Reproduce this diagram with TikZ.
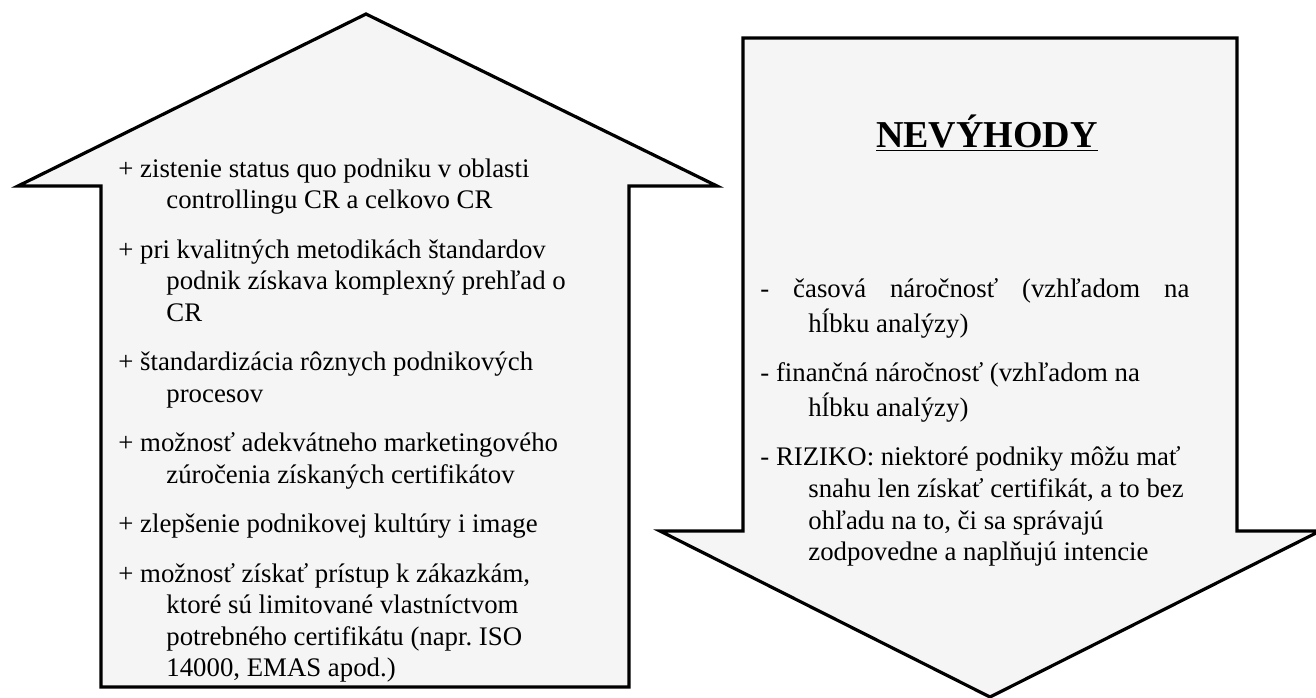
\documentclass[tikz,border=0pt]{standalone}
\usepackage{fontspec}
\setmainfont{Liberation Serif}
\usetikzlibrary{positioning}

\begin{document}
\begin{tikzpicture}[x=0.5pt,y=-0.5pt,node distance=8.5pt,
   arrowbox/.style={draw=black,line width=1.6pt,fill=black!4},
   entry/.style={inner sep=0pt,font=\fontsize{13.4}{15.8}\selectfont,
      execute at begin node={\begin{minipage}[t]{#1}\frenchspacing
         \hangindent=24pt\hangafter=1\strut},
      execute at end node={\strut\end{minipage}}},
   entry/.default=240pt]
   \useasboundingbox (0,0) rectangle (1316,697);
   \clip (0,0) rectangle (1316,697);
   % up arrow
   \draw[arrowbox] (366,14) -- (717,186) -- (629,186) -- (629,687) -- (101,687)
      -- (101,186) -- (18,186) -- cycle;
   % down arrow
   \draw[arrowbox] (743,38) -- (1237,38) -- (1237,531) -- (1320,531) -- (990,697)
      -- (660,531) -- (743,531) -- cycle;

   \node[entry] (adv1) at (118,177) [anchor=base west]
      {+ zistenie status quo podniku v oblasti\\controllingu CR a celkovo CR};
   \node[entry] (adv2) [below=of adv1]
      {+ pri kvalitných metodikách štandardov\\podnik získava komplexný prehľad o\\CR};
   \node[entry] (adv3) [below=of adv2]
      {+ štandardizácia rôznych podnikových\\procesov};
   \node[entry] (adv4) [below=of adv3]
      {+ možnosť adekvátneho marketingového\\zúročenia získaných certifikátov};
   \node[entry] (adv5) [below=of adv4]
      {+ zlepšenie podnikovej kultúry i image};
   \node[entry] (adv6) [below=of adv5]
      {+ možnosť získať prístup k zákazkám,\\ktoré sú limitované vlastníctvom\\potrebného certifikátu (napr. ISO\\14000, EMAS apod.)};

   \node[font=\fontsize{19}{22}\selectfont\bfseries] (title) at (987,147) [anchor=base]
      {\underline{NEVÝHODY}};
   \node[entry=230pt] (dis1) at (760,297) [anchor=base west]
      {\makebox[214.5pt][l]{-\hfill časová\hfill náročnosť\hfill (vzhľadom\hfill na}\\hĺbku analýzy)};
   \node[entry=230pt] (dis2) [below=of dis1]
      {- finančná náročnosť (vzhľadom na\\hĺbku analýzy)};
   \node[entry=230pt] (dis3) [below=of dis2]
      {- RIZIKO: niektoré podniky môžu mať\\snahu len získať certifikát, a to bez\\ohľadu na to, či sa správajú\\zodpovedne a naplňujú intencie};
\end{tikzpicture}
\end{document}
